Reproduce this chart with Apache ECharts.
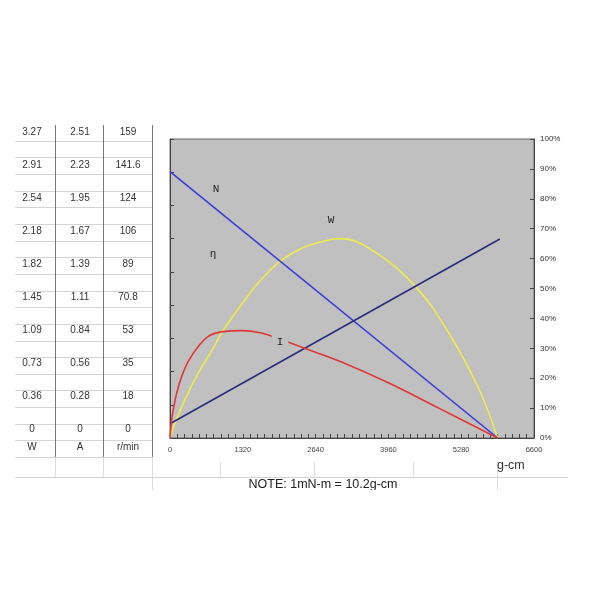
<!DOCTYPE html>
<html>
<head>
<meta charset="utf-8">
<script src="https://cdn.jsdelivr.net/npm/echarts@6/dist/echarts.min.js"></script>
<style>html,body{margin:0;padding:0;background:#fff;}#c{width:600px;height:600px;}</style>
</head>
<body>
<div id="c"></div>
<script>
// ---- data ----
var xTicks = [0, 1320, 2640, 3960, 5280, 6600];           // g-cm
var tableW   = ['3.27','2.91','2.54','2.18','1.82','1.45','1.09','0.73','0.36','0'];
var tableA   = ['2.51','2.23','1.95','1.67','1.39','1.11','0.84','0.56','0.28','0'];
var tableRpm = ['159','141.6','124','106','89','70.8','53','35','18','0'];
var tableUnits = ['W','A','r/min'];

// speed N (r/min)
var nTorque = [0, 5940];
var nSpeed  = [141.6, 0];
// current (A) – drawn as the straight rising line
var iTorque = [0, 5980];
var iAmp    = [0.12, 1.67];
// efficiency (%)
var effTorque = [0, 30, 60, 121, 211, 331, 512, 693, 935, 1296, 1658, 1959, 2441, 3100, 3978, 4882, 5940];
var effVal    = [0, 6.1, 9.5, 15.0, 20.6, 25.6, 30.6, 34.0, 35.5, 35.9, 35.1, 33.3, 30.0, 25.5, 18.3, 9.9, 0];
// output power (W)
var wTorque = [0, 90, 271, 512, 754, 935, 1116, 1356, 1650, 1989, 2441, 2924, 3074, 3676, 4460, 5063, 5605, 5940];
var wVal    = [0, 0.16, 0.42, 0.71, 0.95, 1.15, 1.31, 1.51, 1.73, 1.93, 2.09, 2.17, 2.18, 2.05, 1.65, 1.14, 0.53, 0];

function pairs(xs, ys){ return xs.map(function(x,i){ return [x, ys[i]]; }); }

var chart = echarts.init(document.getElementById('c'));
var FONT = 'Liberation Sans, Arial, sans-serif';

// ---- decorative table / text ----
var g = [];
var cols = [32, 80, 128];
var tables = [tableW, tableA, tableRpm];
for (var r = 0; r < 10; r++) {
  for (var c = 0; c < 3; c++) {
    g.push({type:'text', x: cols[c], y: 132.7 + r*33.0, z: 50,
      style:{text: tables[c][r], fill:'#333', font:'10px ' + FONT, textAlign:'center', textVerticalAlign:'middle'}});
  }
}
for (var c2 = 0; c2 < 3; c2++) {
  g.push({type:'text', x: cols[c2], y: 447.7, z: 50,
    style:{text: tableUnits[c2], fill:'#333', font:'10px ' + FONT, textAlign:'center', textVerticalAlign:'middle'}});
}
for (var k = 0; k < 20; k++) {
  var yy = Math.round(140.7 + k*16.65) + 0.5;
  g.push({type:'line', z: 1, shape:{x1:15, y1:yy, x2:152, y2:yy}, style:{stroke:'#d4d4d4', lineWidth:1}});
}
g.push({type:'line', z: 1, shape:{x1:15, y1:477.5, x2:568, y2:477.5}, style:{stroke:'#d4d4d4', lineWidth:1}});
[55.5, 103.5].forEach(function(x){
  g.push({type:'line', z: 2, shape:{x1:x, y1:125, x2:x, y2:457}, style:{stroke:'#777', lineWidth:1}});
  g.push({type:'line', z: 2, shape:{x1:x, y1:457, x2:x, y2:477}, style:{stroke:'#ddd', lineWidth:1}});
});
g.push({type:'line', z: 2, shape:{x1:152.5, y1:125, x2:152.5, y2:457}, style:{stroke:'#777', lineWidth:1}});
g.push({type:'line', z: 2, shape:{x1:152.5, y1:457, x2:152.5, y2:490}, style:{stroke:'#ddd', lineWidth:1}});
[220.5, 314.5, 413.5].forEach(function(x){
  g.push({type:'line', z: 1, shape:{x1:x, y1:462, x2:x, y2:477}, style:{stroke:'#ddd', lineWidth:1}});
});
g.push({type:'line', z: 1, shape:{x1:497.5, y1:462, x2:497.5, y2:490}, style:{stroke:'#ddd', lineWidth:1}});

// curve labels
var lblFont = '11px Liberation Mono, DejaVu Sans Mono, monospace';
[['N',216,189],['W',331,220],['η',213,254]].forEach(function(a){
  g.push({type:'text', x:a[1], y:a[2], z:100, style:{text:a[0], fill:'#222', font:lblFont, textAlign:'center', textVerticalAlign:'middle'}});
});
g.push({type:'text', x:280, y:342, z:100, style:{text:'I', fill:'#222', font:lblFont, textAlign:'center', textVerticalAlign:'middle',
  backgroundColor:'#c0c0c0', padding:[2,5,2,5]}});

g.push({type:'text', x:497, y:466, z:50, style:{text:'g-cm', fill:'#333', font:'12.5px ' + FONT, textAlign:'left', textVerticalAlign:'middle'}});
g.push({type:'text', x:323, y:478, z:50, style:{text:'NOTE: 1mN-m = 10.2g-cm', fill:'#222', font:'12.5px ' + FONT, textAlign:'center', textVerticalAlign:'top'}});
g.push({type:'rect', z:200, shape:{x:0, y:490, width:600, height:110}, style:{fill:'#fff'}});

var option = {
  backgroundColor: '#fff',
  animation: false,
  grid: {left:170, right:66, top:139, bottom:162, show:true, backgroundColor:'#c0c0c0', borderColor:'#666', borderWidth:1},
  xAxis: {
    type:'value', min:xTicks[0], max:xTicks[xTicks.length-1], interval:1320,
    axisLine:{show:true, lineStyle:{color:'#444'}},
    axisTick:{show:true, inside:true, length:4, lineStyle:{color:'#444'}},
    minorTick:{show:true, splitNumber:10, length:4, lineStyle:{color:'#444'}},
    splitLine:{show:false},
    axisLabel:{fontSize:7.5, color:'#444', margin:8, fontFamily:FONT, formatter:function(v){ return String(v); }}
  },
  yAxis: [
    { // r/min
      type:'value', position:'left', min:0, max:159, interval:159/9,
      axisLine:{show:true, lineStyle:{color:'#444'}},
      axisTick:{show:true, inside:true, length:4, lineStyle:{color:'#444'}},
      axisLabel:{show:false}, splitLine:{show:false}
    },
    { // efficiency %
      type:'value', position:'right', min:0, max:100, interval:10,
      axisLine:{show:true, lineStyle:{color:'#444'}},
      axisTick:{show:true, inside:true, length:4, lineStyle:{color:'#444'}},
      axisLabel:{formatter:'{value}%', fontSize:8, color:'#333', margin:6, fontFamily:FONT},
      splitLine:{show:false}
    },
    {type:'value', show:false, min:0, max:2.51, splitLine:{show:false}},
    {type:'value', show:false, min:0, max:3.27, splitLine:{show:false}}
  ],
  series: [
    {name:'W', type:'line', yAxisIndex:3, data:pairs(wTorque, wVal), smooth:0.4, showSymbol:false,
      lineStyle:{color:'#ecec4c', width:1.6}},
    {name:'N', type:'line', yAxisIndex:0, data:pairs(nTorque, nSpeed), showSymbol:false,
      lineStyle:{color:'#3a3ad8', width:1.6}},
    {name:'I', type:'line', yAxisIndex:2, data:pairs(iTorque, iAmp), showSymbol:false,
      lineStyle:{color:'#2c2c7c', width:1.6}},
    {name:'eta', type:'line', yAxisIndex:1, data:pairs(effTorque, effVal), smooth:0.4, showSymbol:false,
      lineStyle:{color:'#e03838', width:1.6}}
  ],
  graphic: g
};
chart.setOption(option);
</script>
</body>
</html>
